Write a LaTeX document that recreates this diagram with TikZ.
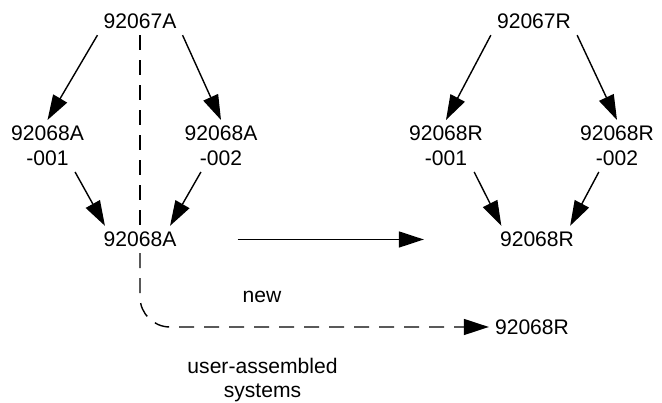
\documentclass[tikz,border=0pt]{standalone}
\usepackage{fontspec}
\setmainfont{Liberation Sans}
\usepackage{tikz}
\usetikzlibrary{arrows.meta}

\begin{document}
\begin{tikzpicture}[
    part/.style={align=center, font=\fontsize{12}{14}\selectfont},
    arr/.style={line width=0.8pt, -{Triangle[length=0.5cm, width=0.32cm]}},
    dsh/.style={line width=0.8pt, dash pattern=on 0.3cm off 0.2cm}
  ]
    \useasboundingbox (0, 0) rectangle (13.24, 8.06);

    % A series
    \node[part] (topA) at (2.80, 7.63) {92067A};
    \node[part] (lA) at (0.95, 5.14) {92068A\\-001};
    \node[part] (rA) at (4.42, 5.14) {92068A\\-002};
    \node[part] (botA) at (2.80, 3.27) {92068A};

    \draw[arr] (topA.south west) -- (lA.north);
    \draw[arr] (topA.south east) -- (rA.north);
    \draw[arr] ([xshift=-0.3cm]lA.south east) -- ([xshift=0.15cm]botA.north west);
    \draw[arr] ([xshift=0.45cm]rA.south west) -- ([xshift=-0.25cm]botA.north east);

    % R series
    \node[part] (topR) at (10.68, 7.63) {92067R};
    \node[part] (lR) at (8.92, 5.14) {92068R\\-001};
    \node[part] (rR) at (12.34, 5.14) {92068R\\-002};
    \node[part] (botR) at (10.74, 3.27) {92068R};

    \draw[arr] (topR.south west) -- (lR.north);
    \draw[arr] (topR.south east) -- (rR.north);
    \draw[arr] ([xshift=-0.3cm]lR.south east) -- ([xshift=0.15cm]botR.north west);
    \draw[arr] ([xshift=0.5cm]rR.south west) -- ([xshift=-0.2cm]botR.north east);

    % new versus user-assembled
    \draw[arr] ([xshift=1.1cm]botA.east) -- ([xshift=-1.4cm]botR.west);
    \node[part] (new) at (5.24, 2.12) {new};

    \node[part] (sysR) at (10.64, 1.52) {92068R};
    \draw[dsh] (topA.south) -- (botA.north);
    \draw[dsh, arr, rounded corners=0.6cm] (botA.south) |- (sysR.west);
    \node[part] (user) at (5.25, 0.46) {user-assembled\\systems};
\end{tikzpicture}
\end{document}
